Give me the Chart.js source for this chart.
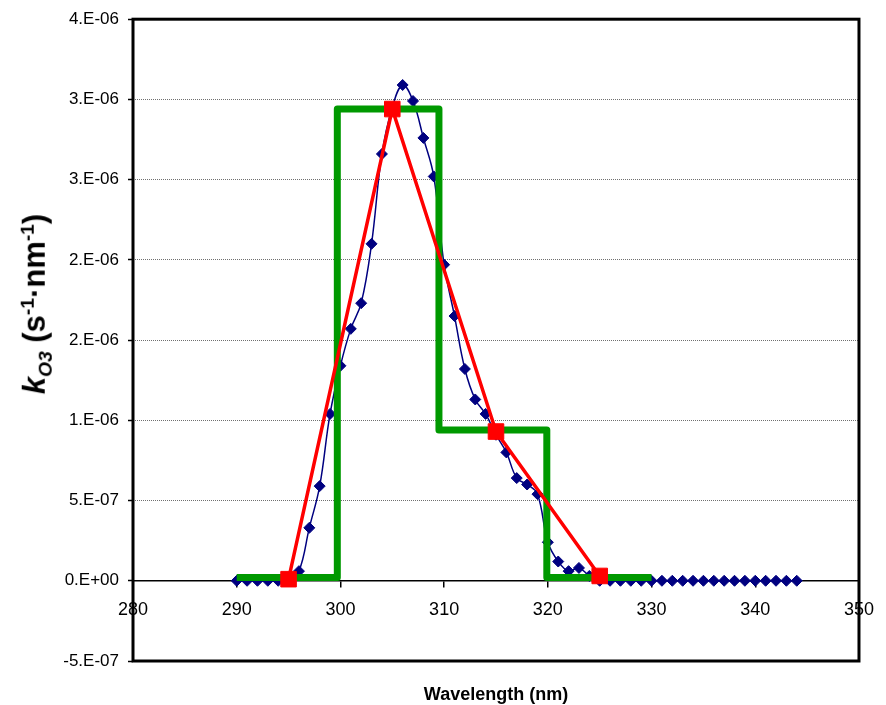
<!DOCTYPE html>
<html>
<head>
<meta charset="utf-8">
<script src="https://cdn.jsdelivr.net/npm/chart.js@4/dist/chart.umd.min.js"></script>
<style>
  body { margin: 0; background: #fff; }
  #wrap { position: relative; width: 886px; height: 705px; }
  #yTitle {
    position: absolute; left: 37px; top: 304px;
    transform: translate(-50%, -50%) rotate(-90deg);
    font: bold 31px "Liberation Sans", Arial, sans-serif;
    white-space: nowrap; color: #000;
  }
  #yTitle sub, #yTitle sup { font-size: 0.62em; }
  #xTitle {
    position: absolute; left: 496px; top: 694px;
    transform: translate(-50%, -50%);
    font: bold 18px "Liberation Sans", Arial, sans-serif;
    white-space: nowrap; color: #000;
  }
</style>
</head>
<body>
<div id="wrap">
  <canvas id="kChart" width="886" height="705"></canvas>
  <div id="yTitle"><i>k<sub>O3</sub></i> (s<sup>-1</sup>·nm<sup>-1</sup>)</div>
  <div id="xTitle">Wavelength (nm)</div>
</div>
<script>
// measured spectrum, 1 nm steps
const wavelengths = [290, 291, 292, 293, 294, 295, 296, 297, 298, 299,
  300, 301, 302, 303, 304, 305, 306, 307, 308, 309,
  310, 311, 312, 313, 314, 315, 316, 317, 318, 319,
  320, 321, 322, 323, 324, 325, 326, 327, 328, 329,
  330, 331, 332, 333, 334, 335, 336, 337, 338, 339,
  340, 341, 342, 343, 344];
const kO3 = [0, 0, 0, 0, 0, 0.005e-6, 0.06e-6, 0.33e-6, 0.59e-6, 1.04e-6,
  1.34e-6, 1.57e-6, 1.73e-6, 2.10e-6, 2.66e-6, 2.95e-6, 3.09e-6, 2.99e-6, 2.76e-6, 2.52e-6,
  1.97e-6, 1.65e-6, 1.32e-6, 1.13e-6, 1.04e-6, 0.91e-6, 0.80e-6, 0.64e-6, 0.60e-6, 0.54e-6,
  0.24e-6, 0.12e-6, 0.06e-6, 0.08e-6, 0.03e-6, 0, 0, 0, 0, 0,
  0, 0, 0, 0, 0, 0, 0, 0, 0, 0,
  0, 0, 0, 0, 0];

// 10 nm band values
const bandX = [295, 305, 315, 325];
const bandK = [0.01e-6, 2.94e-6, 0.93e-6, 0.03e-6];

// step outline of the bands
const stepX = [290, 299.7, 299.7, 309.5, 309.5, 319.9, 319.9, 330];
const stepK = [0.02e-6, 0.02e-6, 2.94e-6, 2.94e-6, 0.94e-6, 0.94e-6, 0.02e-6, 0.02e-6];

const yTickLabels = ['-5.E-07', '0.E+00', '5.E-07', '1.E-06', '2.E-06', '2.E-06', '3.E-06', '3.E-06', '4.E-06'];

const fontFamily = '"Liberation Sans", Arial, sans-serif';

function toPoints(xs, ys) {
    return xs.map((x, i) => ({ x: x, y: ys[i] }));
}

// black frame round the plot area
const frame = {
    id: 'frame',
    afterDraw(chart) {
        const a = chart.chartArea;
        const ctx = chart.ctx;
        ctx.save();
        ctx.strokeStyle = '#000';
        ctx.lineWidth = 3;
        ctx.strokeRect(a.left, a.top, a.right - a.left, a.bottom - a.top);
        ctx.restore();
    }
};

new Chart(document.getElementById('kChart'), {
    type: 'scatter',
    data: {
        datasets: [
            {
                label: 'bands',
                data: toPoints(bandX, bandK),
                showLine: true,
                borderColor: '#ff0000',
                borderWidth: 3.5,
                pointStyle: 'rect',
                pointRadius: 11,
                pointBackgroundColor: '#ff0000',
                pointBorderColor: '#ff0000',
                pointBorderWidth: 1
            },
            {
                label: 'step',
                data: toPoints(stepX, stepK),
                showLine: true,
                borderColor: '#009900',
                borderWidth: 7,
                borderJoinStyle: 'round',
                pointRadius: 0
            },
            {
                label: 'spectrum',
                data: toPoints(wavelengths, kO3),
                showLine: true,
                tension: 0.4,
                borderColor: '#000080',
                borderWidth: 1.5,
                pointStyle: 'rectRot',
                pointRadius: 5.5,
                pointBackgroundColor: '#000080',
                pointBorderColor: '#000080',
                pointBorderWidth: 1
            }
        ]
    },
    options: {
        responsive: false,
        devicePixelRatio: 1,
        animation: false,
        layout: { padding: { left: 0, top: 15, right: 26, bottom: 44 } },
        plugins: {
            legend: { display: false },
            tooltip: { enabled: false }
        },
        scales: {
            x: {
                type: 'linear',
                min: 280,
                max: 350,
                position: { y: 0 },
                ticks: {
                    stepSize: 10,
                    color: '#000',
                    font: { family: fontFamily, size: 18 },
                    padding: 12,
                    maxRotation: 0,
                    autoSkip: false
                },
                grid: { drawOnChartArea: false, tickLength: 6, color: '#000', lineWidth: 1.5 },
                border: { color: '#000', width: 1.5 }
            },
            y: {
                min: -5e-7,
                max: 3.5e-6,
                ticks: {
                    stepSize: 5e-7,
                    color: '#000',
                    font: { family: fontFamily, size: 17 },
                    padding: 9,
                    callback: function(value, index) {
                        return yTickLabels[index];
                    }
                },
                grid: {
                    color: '#707070',
                    lineWidth: 1,
                    tickLength: 5,
                    tickColor: '#000',
                    tickWidth: 1.5
                },
                border: { display: false, dash: [1, 1] },
                afterFit: function(scale) {
                    scale.width = 133;
                }
            }
        }
    },
    plugins: [frame]
});
</script>
</body>
</html>
